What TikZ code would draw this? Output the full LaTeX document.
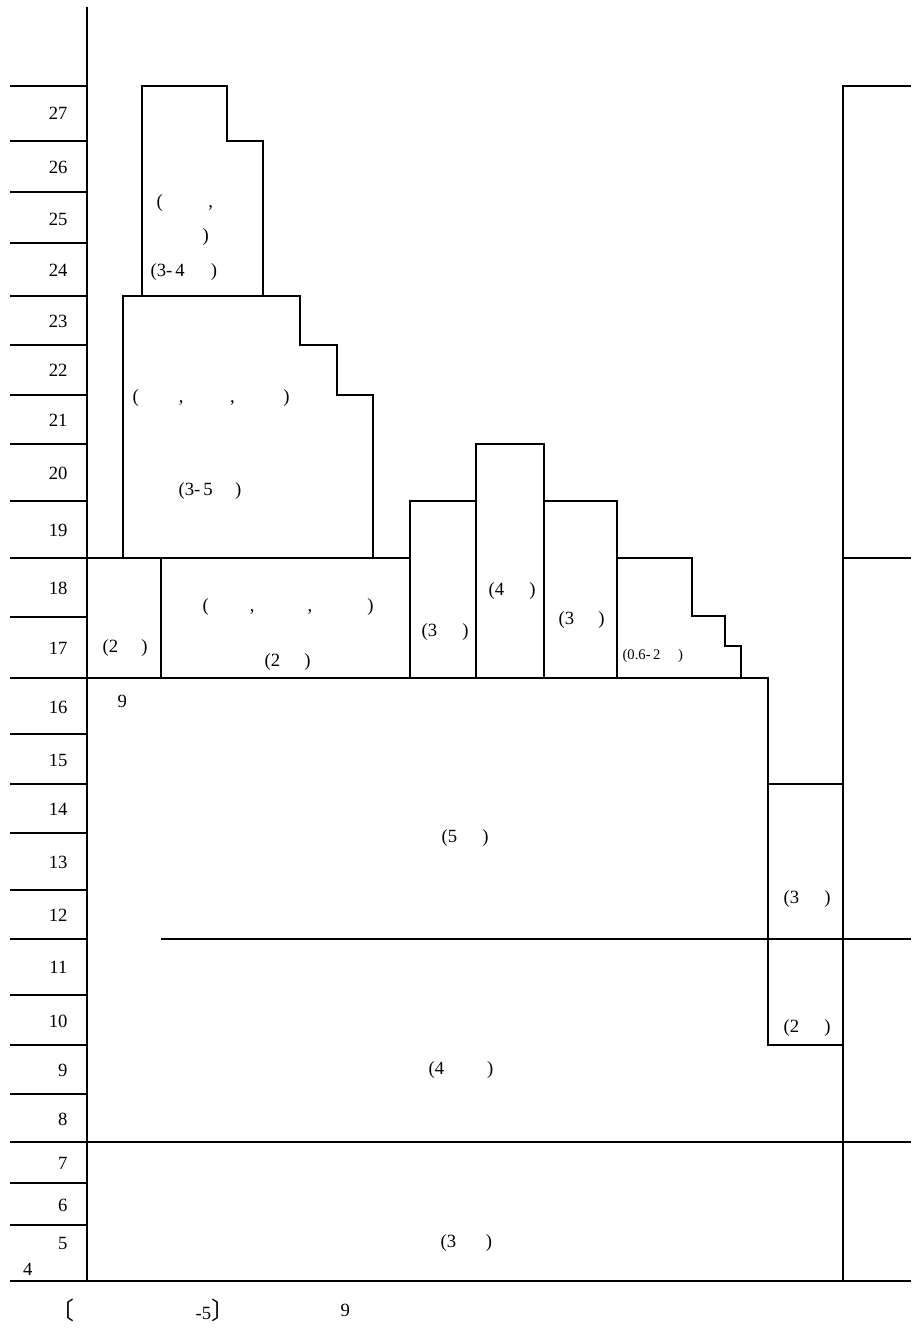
\documentclass[tikz,border=0pt]{standalone}
\usepackage{fontspec}
\setmainfont{Liberation Serif}
\newfontfamily\cjk{Noto Sans CJK SC}

\begin{document}
\begin{tikzpicture}[x=0.75pt,y=-0.75pt,line width=0.8pt,
  lbl/.style={inner sep=0pt,anchor=east,font=\fontsize{14}{16}\selectfont},
  txt/.style={inner sep=0pt,anchor=west,font=\fontsize{14}{16}\selectfont}]
\useasboundingbox (0,0) rectangle (911,1338);
\draw (87,7) -- (87,1281);
\foreach \y in {86,141,192,243,296,345,395,444,501,558,617,678,734,784,833,890,939,995,1045,1094,1142,1183,1225,1281}
  \draw (10,\y) -- (87,\y);
\foreach \n/\y in {27/113,26/167,25/219,24/270,23/321,22/370,21/420,20/473,19/530,18/588,17/648,16/707,15/760,14/809,13/862,12/915,11/967,10/1021,9/1070,8/1119,7/1163,6/1205,5/1243}
  \node[lbl] (l\n) at (68,\y) {\n};
\node[lbl] (l4) at (33,1269) {4};

\draw (142,296) -- (142,86) -- (227,86) -- (227,141) -- (263,141) -- (263,296);
\draw (123,558) -- (123,296) -- (300,296) -- (300,345) -- (337,345) -- (337,395) -- (373,395) -- (373,558);
\draw (87,558) -- (410,558);
\draw (161,558) -- (161,678);
\draw (410,678) -- (410,501) -- (476,501) -- (476,678);
\draw (476,501) -- (476,444) -- (544,444) -- (544,678);
\draw (544,501) -- (617,501) -- (617,678);
\draw (617,558) -- (692,558) -- (692,616) -- (725,616) -- (725,646) -- (741,646) -- (741,678);
\draw (87,678) -- (768,678) -- (768,1045) -- (843,1045);
\draw (768,784) -- (843,784);
\draw (161,939) -- (911,939);
\draw (87,1142) -- (911,1142);
\draw (87,1281) -- (911,1281);
\draw (911,86) -- (843,86) -- (843,1281);
\draw (843,558) -- (911,558);

\node[txt] (t1a) at (156,203) {(\hspace{2.45em},};
\node[txt] (t1b) at (202,237) {)};
\node[txt] (t1c) at (150,272) {(3-\,4\hspace{1.4em})};
\node[txt] (t2a) at (132,398) {(\hspace{2.15em},\hspace{2.5em},\hspace{2.6em})};
\node[txt] (t2b) at (178,491) {(3-\,5\hspace{1.2em})};
\node[txt] (t3) at (102,648) {(2\hspace{1.25em})};
\node[txt] (t4a) at (202,607) {(\hspace{2.2em},\hspace{2.85em},\hspace{2.95em})};
\node[txt] (t4b) at (264,662) {(2\hspace{1.3em})};
\node[txt] (t5) at (421,632) {(3\hspace{1.35em})};
\node[txt] (t6) at (488,591) {(4\hspace{1.35em})};
\node[txt] (t7) at (558,620) {(3\hspace{1.3em})};
\node[txt,font=\fontsize{11}{13}\selectfont] (t8) at (622,656) {(0.6-\,2\hspace{1.2em})};
\node[txt] (t9) at (117,701) {9};
\node[txt] (t10) at (441,838) {(5\hspace{1.35em})};
\node[txt] (t11) at (428,1070) {(4\hspace{2.3em})};
\node[txt] (t12) at (440,1243) {(3\hspace{1.6em})};
\node[txt] (t13) at (783,899) {(3\hspace{1.35em})};
\node[txt] (t14) at (783,1028) {(2\hspace{1.35em})};
\node[txt,font=\fontsize{18}{20}\selectfont] (b1) at (50,1310) {{\cjk 〔}};
\node[txt] (b2) at (195,1310) {-5{\fontsize{18}{20}\selectfont\cjk 〕}};
\node[txt] (b3) at (340,1310) {9};
\end{tikzpicture}
\end{document}
